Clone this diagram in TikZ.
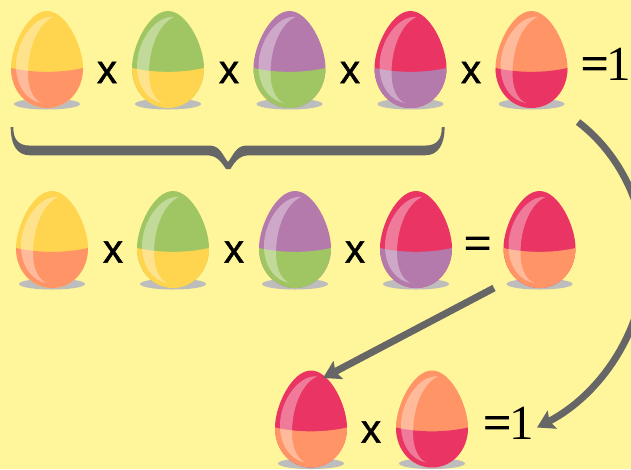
\documentclass[tikz,border=0pt]{standalone}
\usepackage{fontspec}
\setmainfont{Liberation Serif}
\setsansfont{Liberation Sans}
\newfontfamily\heavyserif[FakeBold=1.6]{Liberation Serif}
\newfontfamily\heavysans[FakeBold=1.2]{Liberation Sans}
\usetikzlibrary{arrows.meta}
\definecolor{bgc}{HTML}{FFF59A}
\definecolor{yel}{HTML}{FFD54F}
\definecolor{ora}{HTML}{FF9466}
\definecolor{gre}{HTML}{A0C663}
\definecolor{pur}{HTML}{B47AAC}
\definecolor{pin}{HTML}{E93464}
\definecolor{sha}{HTML}{BDBDBD}
\definecolor{ink}{HTML}{666666}
\tikzset{
  times/.style={font=\heavysans\fontsize{40}{40}\selectfont,inner sep=0pt,anchor=center},
  eqone/.style={font=\rmfamily\fontsize{49}{49}\selectfont,inner sep=0pt,anchor=base west},
  shine/.style={fill=white,fill opacity=.35},
  link/.style={draw=ink,line width=7pt,-{Stealth[length=17pt,width=20pt,inset=3pt]}},
}
\newcommand{\heavyeq}{{\heavyserif =}}
% name, cx, top, upper colour, lower colour
\newcommand{\eggat}[5]{%
  \coordinate (#1) at (#2,#3);
  \begin{scope}[shift={(#1)}]
    \path[fill=sha] (0,93) ellipse [x radius=33,y radius=5.5];
    \path[fill=#4] (0,0) .. controls (19,0) and (36,35) .. (36,57) .. controls (36,80) and (20,97) .. (0,97) .. controls (-20,97) and (-36,80) .. (-36,57) .. controls (-36,35) and (-19,0) .. (0,0) -- cycle;
    \begin{scope}
      \clip (0,0) .. controls (19,0) and (36,35) .. (36,57) .. controls (36,80) and (20,97) .. (0,97) .. controls (-20,97) and (-36,80) .. (-36,57) .. controls (-36,35) and (-19,0) .. (0,0) -- cycle;
      \path[fill=#5] (-37,56.7) .. controls (-15,62.2) and (15,62.2) .. (37,56.7) -- (37,98) -- (-37,98) -- cycle;
    \end{scope}
    \path[shine] (6,6) .. controls (-12,4) and (-31,30) .. (-31,55) .. controls (-31,75) and (-20,90) .. (-5,92) .. controls (-12,90) and (-19,80) .. (-19,62) .. controls (-19,35) and (-8,12) .. (6,6) -- cycle;
  \end{scope}%
}
\begin{document}
\begin{tikzpicture}[x=1pt,y=-1pt]
\useasboundingbox (0,0) rectangle (631,469);
\clip (0,0) rectangle (631,469);
\path[fill=bgc] (0,0) rectangle (631,469);

\eggat{a1}{47}{11}{yel}{ora}
\eggat{a2}{168}{11}{gre}{yel}
\eggat{a3}{289.5}{11}{pur}{gre}
\eggat{a4}{410.5}{11}{pin}{pur}
\eggat{a5}{531.5}{11}{ora}{pin}
\node[times] (xa1) at (107,72.5) {x};
\node[times] (xa2) at (229,72.5) {x};
\node[times] (xa3) at (350,72.5) {x};
\node[times] (xa4) at (471,72.5) {x};
\node[eqone] (eqa) at (580.5,80) {\heavyeq\kern-2.2pt 1};

\path[fill=ink] (10.7,127) -- (13.3,127) .. controls (13.3,138) and (17,145.6) .. (30,145.6)
  -- (210,145.6) .. controls (220,145.6) and (223,156) .. (228,162)
  .. controls (233,156) and (236,145.6) .. (246,145.6)
  -- (425,145.6) .. controls (438,145.6) and (441.8,138) .. (441.8,127) -- (444.6,127)
  .. controls (444.6,145) and (438,155.3) .. (425,155.3)
  -- (250,155.3) .. controls (240,155.3) and (236,160) .. (230.4,169) -- (226,169)
  .. controls (220,160) and (216,155.3) .. (206,155.3)
  -- (30,155.3) .. controls (17,155.3) and (10.7,145) .. (10.7,127) -- cycle;

\eggat{b1}{52}{191}{yel}{ora}
\eggat{b2}{173}{191}{gre}{yel}
\eggat{b3}{295}{191}{pur}{gre}
\eggat{b4}{416}{191}{pin}{pur}
\eggat{b5}{539.5}{191}{pin}{ora}
\node[times] (xb1) at (113,252) {x};
\node[times] (xb2) at (234,252) {x};
\node[times] (xb3) at (355,252) {x};
\node[eqone] (eqb) at (463.5,259.5) {\heavyeq};

\eggat{c1}{311}{370.5}{pin}{ora}
\eggat{c2}{432}{370.5}{ora}{pin}
\node[times] (xc1) at (371,432) {x};
\node[eqone] (eqc) at (483,439) {\heavyeq\kern-1.5pt 1};

\coordinate (s1) at (494,288);
\coordinate (e1) at (323,378);
\coordinate (s2) at (578,122);
\coordinate (m2) at (645,260);
\coordinate (e2) at (537,427.5);
\draw[link] (s1) -- (e1);
\draw[link] (s2) .. controls (615,150) and (645,200) .. (m2) .. controls (645,330) and (600,395) .. (e2);
\end{tikzpicture}
\end{document}
